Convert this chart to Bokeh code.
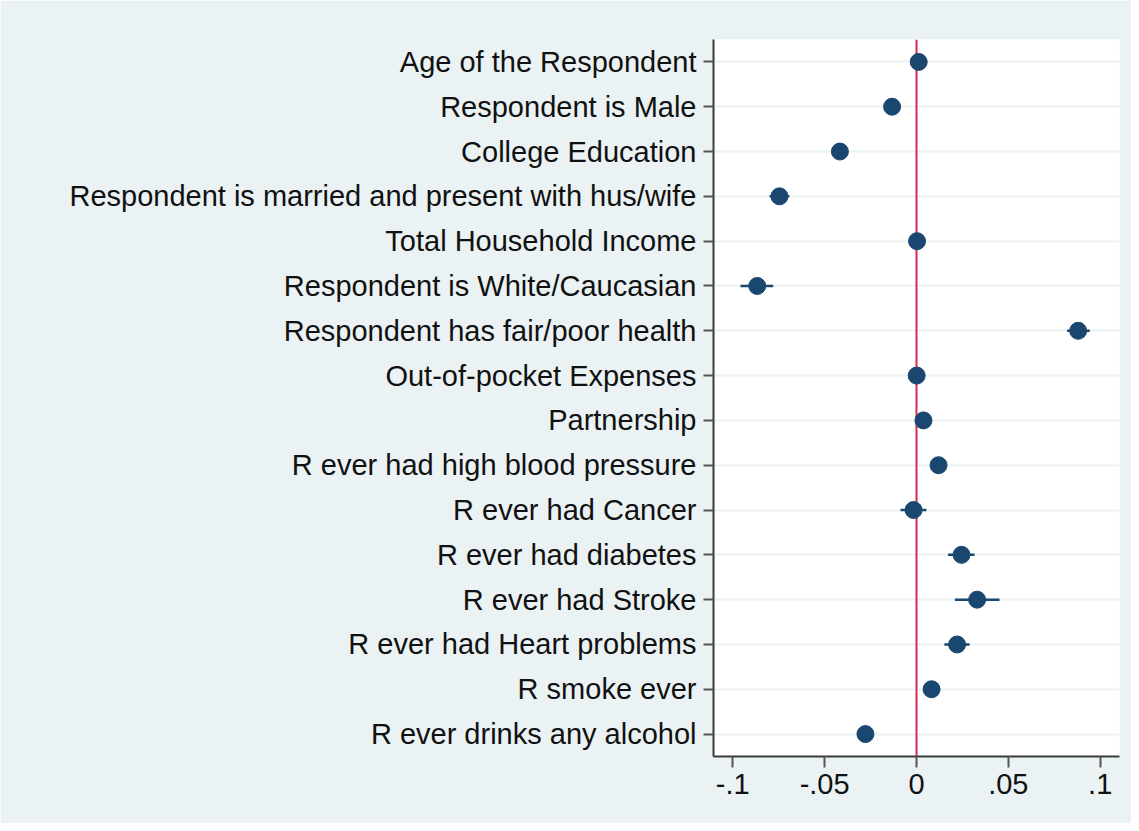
from bokeh.plotting import figure
from bokeh.models import FactorRange, Range1d, Span, FixedTicker, BoxAnnotation
from bokeh.embed import file_html
from bokeh.resources import INLINE

labels = [
    "Age of the Respondent",
    "Respondent is Male",
    "College Education",
    "Respondent is married and present with hus/wife",
    "Total Household Income",
    "Respondent is White/Caucasian",
    "Respondent has fair/poor health",
    "Out-of-pocket Expenses",
    "Partnership",
    "R ever had high blood pressure",
    "R ever had Cancer",
    "R ever had diabetes",
    "R ever had Stroke",
    "R ever had Heart problems",
    "R smoke ever",
    "R ever drinks any alcohol",
]
coef = [0.0012, -0.0133, -0.0417, -0.0746, 0.0003, -0.0867, 0.0880, 0.0001,
        0.0038, 0.0120, -0.0016, 0.0245, 0.0330, 0.0221, 0.0082, -0.0278]
ci_lo = [0.0004, -0.0160, -0.0445, -0.0800, -0.0002, -0.0958, 0.0820, -0.0004,
         0.0010, 0.0095, -0.0087, 0.0172, 0.0209, 0.0152, 0.0060, -0.0305]
ci_hi = [0.0020, -0.0106, -0.0389, -0.0692, 0.0008, -0.0780, 0.0943, 0.0006,
         0.0066, 0.0145, 0.0054, 0.0316, 0.0452, 0.0289, 0.0104, -0.0251]
x_ticks = [-0.1, -0.05, 0, 0.05, 0.1]
x_tick_labels = ["-.1", "-.05", "0", ".05", ".1"]

BG = "#EAF2F3"
NAVY = "#1a476f"
FONT = "Liberation Sans"

p = figure(
    width=1131, height=823,
    y_range=FactorRange(factors=labels[::-1]),
    x_range=Range1d(-0.1105, 0.1105),
    output_backend="svg", toolbar_location=None,
    min_border_left=713, min_border_right=12,
    min_border_top=39, min_border_bottom=67,
)
p.background_fill_color = "white"
p.border_fill_color = BG
p.outline_line_color = None

p.xgrid.grid_line_color = None
p.ygrid.grid_line_color = BG
p.ygrid.grid_line_width = 2

zero = Span(location=0, dimension="height", line_color="#d42a52",
            line_width=2, level="underlay")
p.add_layout(zero)

# window-frame decoration lines (top blue, left gray)
p.add_layout(BoxAnnotation(left=6, right=1131, top=9, bottom=11,
                           left_units="canvas", right_units="canvas",
                           top_units="canvas", bottom_units="canvas",
                           fill_color="#245b8a", fill_alpha=1, line_color=None,
                           level="overlay"))
p.add_layout(BoxAnnotation(left=5, right=7, top=9, bottom=823,
                           left_units="canvas", right_units="canvas",
                           top_units="canvas", bottom_units="canvas",
                           fill_color="#a8a8a8", fill_alpha=1, line_color=None,
                           level="overlay"))

p.segment(x0=ci_lo, y0=labels, x1=ci_hi, y1=labels, line_color=NAVY, line_width=2.5)
p.scatter(x=coef, y=labels, size=17, fill_color=NAVY, line_color=NAVY)

for ax in (p.xaxis[0], p.yaxis[0]):
    ax.axis_line_color = "#3a3a3a"
    ax.axis_line_width = 2
    ax.major_tick_line_color = "#555555"
    ax.major_tick_line_width = 2
    ax.major_tick_in = 0
    ax.minor_tick_line_color = None
    ax.major_label_text_font = FONT
    ax.major_label_text_font_size = "29px"
    ax.major_label_text_color = "#111111"

p.xaxis.ticker = FixedTicker(ticks=x_ticks)
p.xaxis.major_label_overrides = {t: l for t, l in zip(x_ticks, x_tick_labels)}
p.xaxis.major_tick_out = 11
p.xaxis.major_label_standoff = 6
p.yaxis.major_tick_out = 10
p.yaxis.major_label_standoff = 7

open("out.html", "w").write(file_html(p, INLINE))
